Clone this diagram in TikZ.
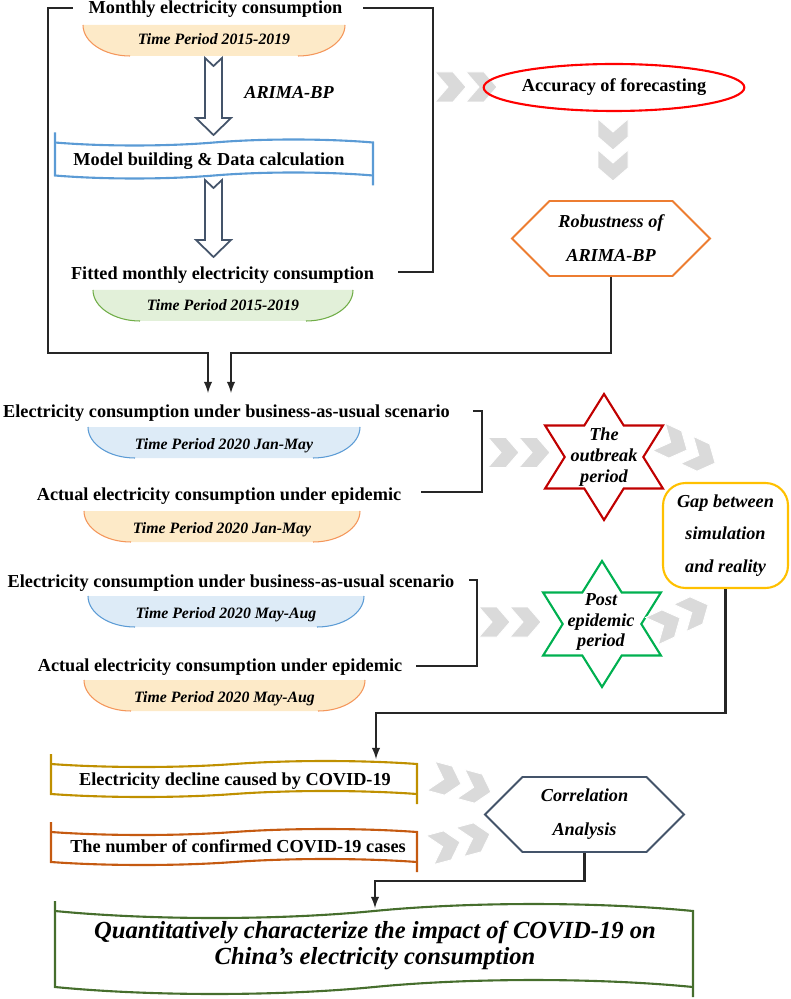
\documentclass[tikz,border=0pt]{standalone}
\usepackage{fontspec}
\setmainfont{Liberation Serif}
\usepackage{tikz}
\usetikzlibrary{shapes,arrows,positioning,calc}

\begin{document}
\begin{tikzpicture}[x=0.02cm, y=-0.02cm,
    title/.style={font=\fontsize{10.4}{12}\selectfont\bfseries, inner sep=1pt, anchor=base},
    period/.style={font=\fontsize{9}{11}\selectfont\bfseries\itshape, inner sep=1pt, anchor=base},
    slanted/.style={font=\fontsize{10.4}{#1}\selectfont\bfseries\itshape, align=center, inner sep=1pt},
    bracket/.style={line width=1.2pt, black!85},
    hexa/.style={signal, signal to=west and east, signal pointer angle=90, line width=1.1pt, minimum height=1.5cm},
    pics/chevs/.style={code={
        \filldraw[fill=chevgray, draw=white, line width=0.5pt] (-31,-15) -- (-13,-15) -- (0,0) -- (-13,15) -- (-31,15) -- (-18,0) -- cycle;
        \filldraw[fill=chevgray, draw=white, line width=0.5pt] (0,-15) -- (18,-15) -- (31,0) -- (18,15) -- (0,15) -- (13,0) -- cycle;
    }},
    pics/blockarrow/.style={code={
        \draw[slate, fill=white, line width=1pt, line join=miter] (-8.5,0) -- (0,8) -- (8.5,0) -- (8.5,60) -- (17.5,60) -- (0,77) -- (-17.5,60) -- (-8.5,60) -- cycle;
    }},
    pics/periodtab/.style n args={3}{code={
        \fill[#2] ({-#1/2},0) -- ({#1/2},0) .. controls ({#1/2},17) and ({#1/2-21},31) .. ({#1/2-47},31) -- ({-#1/2+47},31) .. controls ({-#1/2+21},31) and ({-#1/2},17) .. ({-#1/2},0) -- cycle;
        \draw[#3, line width=0.6pt] ({#1/2},0) .. controls ({#1/2},17) and ({#1/2-21},31) .. ({#1/2-47},31);
        \draw[#3, line width=0.6pt] ({-#1/2+47},31) .. controls ({-#1/2+21},31) and ({-#1/2},17) .. ({-#1/2},0);
    }},
    pics/wavebox/.style n args={4}{code={
        \draw[#4, line width=1.2pt] (0,-10) -- (0,#2) .. controls ({#1*0.15},{#2+1.33*#3}) and ({#1*0.35},{#2+1.33*#3}) .. ({#1*0.5},#2) .. controls ({#1*0.65},{#2-1.33*#3}) and ({#1*0.85},{#2-1.33*#3}) .. (#1,#2);
        \draw[#4, line width=1.2pt] (#1,{#2+10}) -- (#1,0) .. controls ({#1*0.85},{-1.33*#3}) and ({#1*0.65},{-1.33*#3}) .. ({#1*0.5},0) .. controls ({#1*0.35},{1.33*#3}) and ({#1*0.15},{1.33*#3}) .. (0,0);
    }},
    pics/sixstar/.style={code={
        \draw[#1, line width=1.2pt, line join=miter] (0,-63) -- (19.7,-31.5) -- (58.9,-31.5) -- (39.3,0) -- (58.9,31.5) -- (19.7,31.5) -- (0,63) -- (-19.7,31.5) -- (-58.9,31.5) -- (-39.3,0) -- (-58.9,-31.5) -- (-19.7,-31.5) -- cycle;
    }}
    ]
    \definecolor{slate}{RGB}{68,84,106}
    \definecolor{chevgray}{RGB}{218,218,218}
    \definecolor{accred}{RGB}{255,0,0}
    \definecolor{robora}{RGB}{237,125,49}
    \definecolor{outred}{RGB}{192,0,0}
    \definecolor{postgreen}{RGB}{0,176,80}
    \definecolor{gapgold}{RGB}{255,192,0}
    \definecolor{modelblue}{RGB}{91,155,213}
    \definecolor{declinegold}{RGB}{191,144,0}
    \definecolor{casesora}{RGB}{197,90,17}
    \definecolor{impactgreen}{RGB}{70,110,45}
    \definecolor{taborafill}{RGB}{253,234,200}
    \definecolor{taboraline}{RGB}{244,150,90}
    \definecolor{tabbluefill}{RGB}{221,235,247}
    \definecolor{tabblueline}{RGB}{91,155,213}
    \definecolor{tabgreenfill}{RGB}{226,240,217}
    \definecolor{tabgreenline}{RGB}{112,173,71}

    \useasboundingbox (0,0) rectangle (790,999);

    % Fitting stage on the training years
    \node[title] (monthly) at (215.5,14) {Monthly electricity consumption};
    \pic at (214,25) {periodtab={262}{taborafill}{taboraline}};
    \node[period] (tab1) at (214,44.5) {Time Period 2015-2019};
    \pic at (213.5,58) {blockarrow};
    \node[slanted=12, anchor=base] (arima) at (289,99) {ARIMA-BP};
    \pic at (55,142.5) {wavebox={318}{33}{3}{modelblue}};
    \node[title] (model) at (209,165.5) {Model building \& Data calculation};
    \pic at (213.5,180) {blockarrow};
    \node[title] (fitted) at (222.5,280) {Fitted monthly electricity consumption};
    \pic at (223,290) {periodtab={260}{tabgreenfill}{tabgreenline}};
    \node[period] (tab2) at (223,310.5) {Time Period 2015-2019};

    % Checking the model
    \pic at (466,87) {chevs};
    \node[ellipse, draw=accred, line width=1.2pt, minimum width=4.62cm, minimum height=0.94cm, inner sep=0pt, font=\fontsize{10.4}{12}\selectfont\bfseries] (accuracy) at (614,87.5) {Accuracy of forecasting};
    \pic[rotate=-90] at (613,150) {chevs};
    \node[hexa, draw=robora, minimum width=3.96cm, slanted=19.3] (robust) at (611,238.5) {Robustness of\\ARIMA-BP};

    % Outbreak period, Jan-May
    \node[title] (bau1) at (226.5,418) {Electricity consumption under business-as-usual scenario};
    \pic at (224,427) {periodtab={272}{tabbluefill}{tabblueline}};
    \node[period] (tab3) at (224,449.5) {Time Period 2020 Jan-May};
    \node[title] (actual1) at (219,500) {Actual electricity consumption under epidemic};
    \pic at (222,511) {periodtab={276}{taborafill}{taboraline}};
    \node[period] (tab4) at (222,533) {Time Period 2020 Jan-May};
    \pic at (519,452.5) {chevs};
    \pic at (604,457) {sixstar=outred};
    \node[slanted=11.9] (outbreak) at (604,457) {The\\outbreak\\period};
    \pic[rotate=-25] at (687,450) {chevs};

    % Post epidemic period, May-Aug
    \node[title] (bau2) at (231,587) {Electricity consumption under business-as-usual scenario};
    \pic at (226,596) {periodtab={276}{tabbluefill}{tabblueline}};
    \node[period] (tab5) at (226,618) {Time Period 2020 May-Aug};
    \node[title] (actual2) at (220,671) {Actual electricity consumption under epidemic};
    \pic at (224.5,680) {periodtab={281}{taborafill}{taboraline}};
    \node[period] (tab6) at (224.5,702.5) {Time Period 2020 May-Aug};
    \pic at (510,622) {chevs};
    \pic at (602,624) {sixstar=postgreen};
    \node[slanted=11.9] (post) at (601,622) {Post\\epidemic\\period};
    \pic[rotate=25] at (680,618) {chevs};

    \node[draw=gapgold, line width=1.2pt, rounded corners=0.45cm, minimum width=2.5cm, minimum height=2.1cm, slanted=18.7] (gap) at (725.5,535.5) {Gap between\\simulation\\and reality};

    % Impact analysis
    \pic at (51,764) {wavebox={366}{30}{3}{declinegold}};
    \node[title] (decline) at (235,785) {Electricity decline caused by COVID-19};
    \pic at (51,832) {wavebox={366}{30}{3}{casesora}};
    \node[title] (cases) at (238,852) {The number of confirmed COVID-19 cases};
    \pic[rotate=-15] at (461,784) {chevs};
    \pic[rotate=15] at (460,842) {chevs};
    \node[hexa, draw=slate, minimum width=3.98cm, slanted=19.3] (corr) at (584.5,814.5) {Correlation\\Analysis};
    \pic at (55,911) {wavebox={638}{76}{7}{impactgreen}};
    \node[font=\fontsize{14}{14.8}\selectfont\bfseries\itshape, align=center, inner sep=1pt, anchor=base] (impact) at (375,964) {Quantitatively characterize the impact of COVID-19 on\\China’s electricity consumption};

    % Connectors
    \coordinate (in1) at (208,393);
    \coordinate (in2) at (231,393);
    \coordinate (dtop) at (376,759);
    \coordinate (itop) at (375,908);
    \draw[bracket, -latex] ($(monthly.west)+(-14,-2)$) -| (48,353) -| (in1);
    \draw[bracket] ($(monthly.east)+(19,-2)$) -| ($(fitted.east)+(57,-4)$) -- ($(fitted.east)+(22,-4)$);
    \draw[bracket, -latex] (robust.south) |- ($(in2)+(0,-40)$) -- (in2);
    \draw[bracket] ($(bau1.east)+(21,-3)$) -| ($(actual1.east)+(79,-4)$) -- ($(actual1.east)+(18,-4)$);
    \draw[bracket] ($(bau2.east)+(13,-3)$) -| ($(actual2.east)+(73,-1)$) -- ($(actual2.east)+(12,-1)$);
    \draw[bracket, -latex] (gap.south) |- ($(dtop)+(0,-46)$) -- (dtop);
    \draw[bracket, -latex] (corr.south) |- ($(itop)+(0,-27)$) -- (itop);
\end{tikzpicture}
\end{document}
